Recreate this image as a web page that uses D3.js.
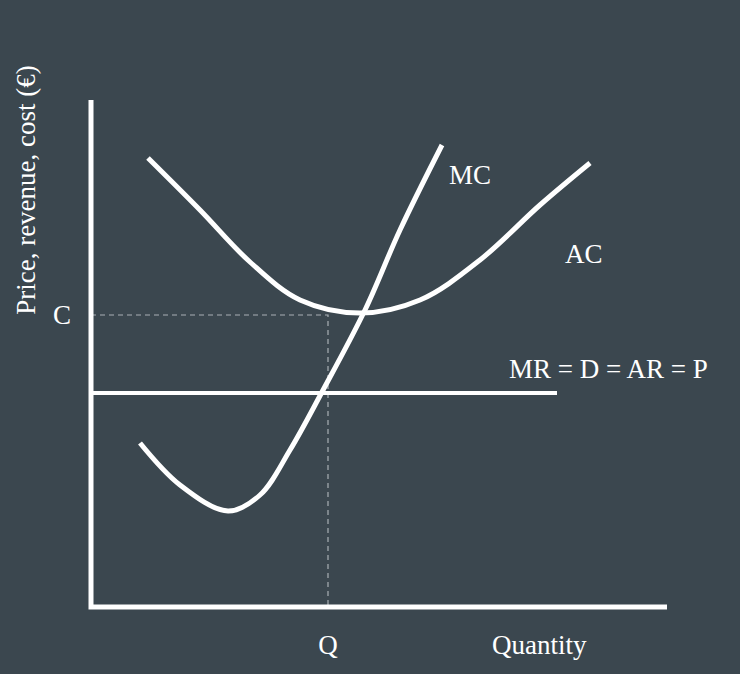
<!DOCTYPE html>
<html>
<head>
<meta charset="utf-8">
<script src="https://cdnjs.cloudflare.com/ajax/libs/d3/7.8.5/d3.min.js"></script>
<style>
  html, body { margin: 0; padding: 0; background: #3b474f; }
  svg { display: block; }
  text { font-family: "Liberation Serif", serif; fill: #fff; font-size: 27px; }
</style>
</head>
<body>
<svg id="chart" width="740" height="674"></svg>
<script>
// quantity / price values (arbitrary units)
var acCurve = [[57,449],[109,397],[159,345],[209,307],[269,294],[329,307],[389,347],[449,402],[499,444]];
var mcCurve = [[49,164],[89,122],[137,96],[169,112],[199,157],[231,215],[274,297],[309,377],[351,462]];
var mrLevel = 214, mrEnd = 466;
var cLevel = 292, qLevel = 237;

var svg = d3.select('#chart');
var x = d3.scaleLinear().domain([0, 576]).range([91, 667]);
var y = d3.scaleLinear().domain([0, 507]).range([607, 100]);

var line = d3.line().x(function(d){ return x(d[0]); }).y(function(d){ return y(d[1]); }).curve(d3.curveCatmullRom);

// dashed guides
svg.append('path').attr('d', d3.line()([[x(0), y(cLevel)], [x(qLevel), y(cLevel)], [x(qLevel), y(0)]]))
  .attr('fill', 'none').attr('stroke', '#a9b0b5').attr('stroke-width', 1.2).attr('stroke-dasharray', '5,4');

// axes
svg.append('path').attr('d', d3.line()([[x(0), y(507)], [x(0), y(0)], [x(576), y(0)]]))
  .attr('fill', 'none').attr('stroke', '#fff').attr('stroke-width', 5);

svg.append('line').attr('x1', x(0)).attr('x2', x(mrEnd)).attr('y1', y(mrLevel)).attr('y2', y(mrLevel))
  .attr('stroke', '#fff').attr('stroke-width', 4);

[acCurve, mcCurve].forEach(function(c){
  svg.append('path').attr('d', line(c)).attr('fill', 'none').attr('stroke', '#fff').attr('stroke-width', 5);
});

svg.append('text').attr('x', 449).attr('y', 184).text('MC');
svg.append('text').attr('x', 565).attr('y', 263).text('AC');
svg.append('text').attr('x', 509).attr('y', 378).text('MR = D = AR = P');
svg.append('text').attr('x', 62).attr('y', 324).attr('text-anchor', 'middle').text('C');
svg.append('text').attr('x', x(qLevel)).attr('y', 654).attr('text-anchor', 'middle').text('Q');
svg.append('text').attr('x', 492).attr('y', 654).text('Quantity');
svg.append('text').attr('transform', 'translate(35,190) rotate(-90)').attr('text-anchor', 'middle').text('Price, revenue, cost (€)');
</script>
</body>
</html>
